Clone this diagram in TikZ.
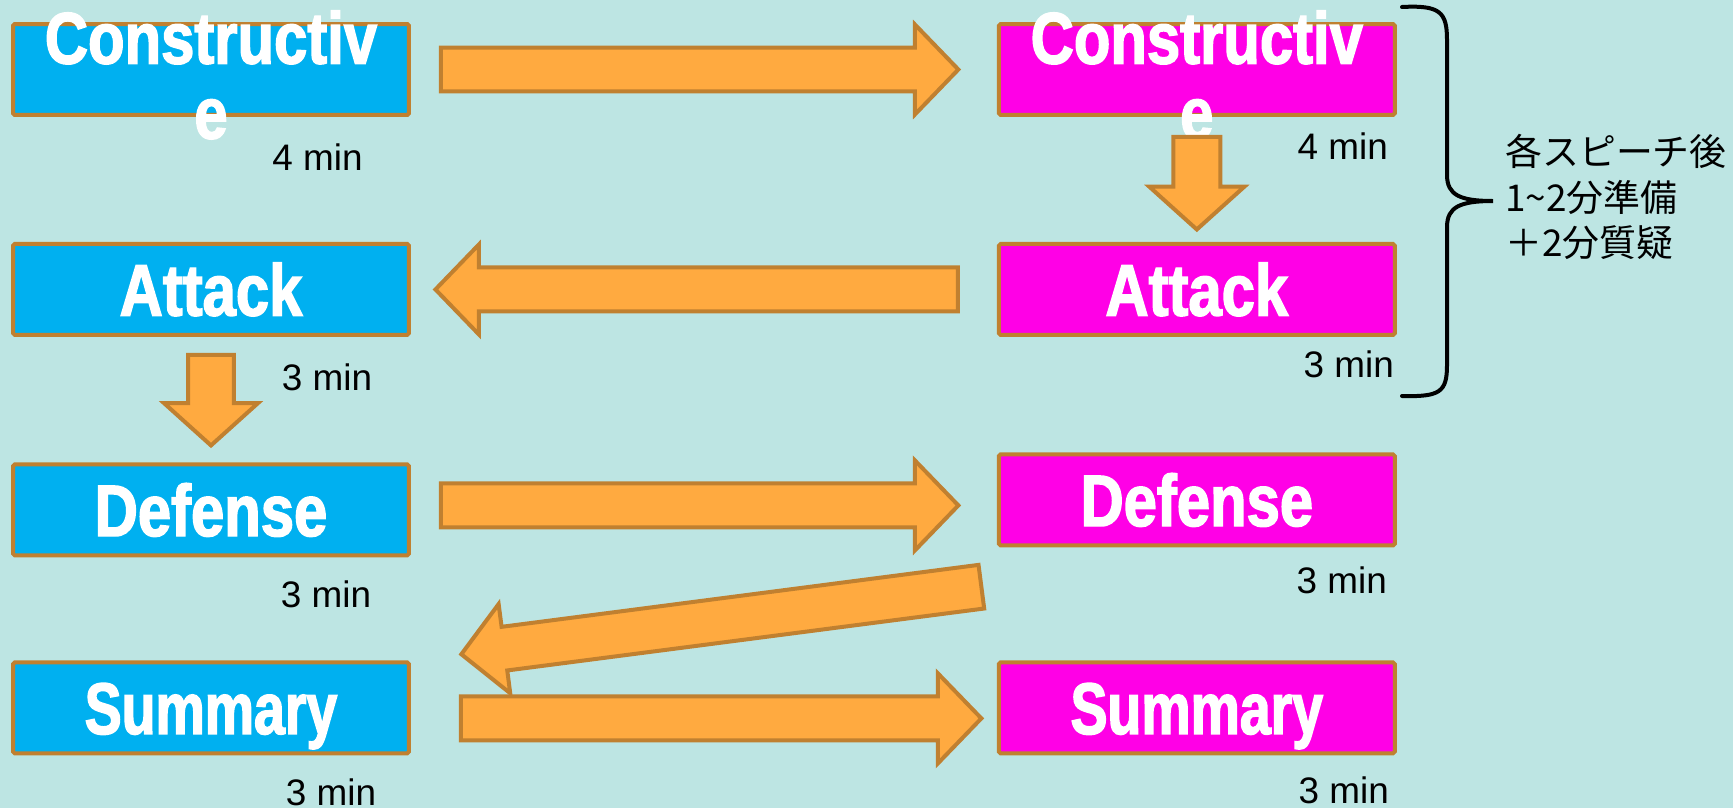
\documentclass[tikz,border=0pt]{standalone}
\usepackage{fontspec}
\setmainfont{Liberation Sans}
\newfontfamily\boxfont[FakeStretch=0.82,FakeBold=2]{Liberation Sans Bold}
\newfontfamily\narrowfont[FakeStretch=0.76,FakeBold=2]{Liberation Sans Bold}
\newfontfamily\cjk{Noto Sans CJK JP}
\usetikzlibrary{positioning,shapes.arrows}
\definecolor{bgteal}{RGB}{189,229,227}
\definecolor{affblue}{RGB}{0,176,240}
\definecolor{negpink}{RGB}{255,0,230}
\definecolor{rim}{RGB}{192,128,48}
\definecolor{flowfill}{RGB}{255,170,64}
\tikzset{speech/.style={rectangle,draw=rim,line width=0.08cm,minimum width=7.92cm,minimum height=1.82cm,inner sep=0pt,outer sep=0pt,rounded corners=1pt,text=white,font=\boxfont\fontsize{41.5pt}{42.7pt}\selectfont,text height=29.7pt,text depth=0pt},
aff/.style={speech,fill=affblue},
neg/.style={speech,fill=negpink},
narrow/.style={font=\narrowfont\fontsize{41.5pt}{42.7pt}\selectfont},
wrapped/.style={text=white,align=center,inner sep=0pt,font=\boxfont\fontsize{41.5pt}{42.7pt}\selectfont},
flow/.style={single arrow,draw=rim,fill=flowfill,line width=0.08cm,single arrow head extend=0.46cm,single arrow tip angle=92,inner sep=0.4cm,outer sep=0pt,anchor=tail},
dur/.style={font=\fontsize{21pt}{25pt}\selectfont,inner sep=0pt},
note/.style={font=\cjk\fontsize{21pt}{26pt}\selectfont,align=left,inner sep=0pt,anchor=west},
}

\begin{document}
\begin{tikzpicture}[x=0.02cm,y=-0.02cm]
	\useasboundingbox (0,0) rectangle (1733,808);
	\fill[bgteal] (0,0) rectangle (1733,808);

	% speeches
	\node[aff] (cl) at (211,69.5) {};
	\node[neg] (cr) [right = 11.8cm of cl] {};
	\node[aff] (al) [below = 2.58cm of cl] {Attack};
	\node[neg] (ar) [below = 2.58cm of cr] {Attack};
	\node[aff] (dl) [below = 2.59cm of al] {Defense};
	\node[neg] (dr) [below = 2.39cm of ar] {Defense};
	\node[aff,narrow] (sl) [below = 2.14cm of dl] {Summary};
	\node[neg,narrow] (sr) [below = 2.34cm of dr] {Summary};
	\node[wrapped] (clt) at ([shift={(0,5.5)}]cl.center) {Constructiv\\e};
	\node[wrapped] (crt) at ([shift={(0,5.5)}]cr.center) {Constructiv\\e};

	% times
	\node[dur] (tcl) at ([shift={(106.5,42.5)}]cl.south) {4 min};
	\node[dur] (tcr) at ([shift={(146,31)}]cr.south) {4 min};
	\node[dur] (tal) at ([shift={(116,42.5)}]al.south) {3 min};
	\node[dur] (tar) at ([shift={(152,29.5)}]ar.south) {3 min};
	\node[dur] (tdl) at ([shift={(115,38.5)}]dl.south) {3 min};
	\node[dur] (tdr) at ([shift={(145,34.5)}]dr.south) {3 min};
	\node[dur] (tsl) at ([shift={(120,39)}]sl.south) {3 min};
	\node[dur] (tsr) at ([shift={(147,36.5)}]sr.south) {3 min};

	% flow
	\node[flow,minimum height=10.35cm] (f1) at ([xshift=0.64cm]cl.east) {};
	\node[flow,minimum height=1.85cm,inner sep=0.43cm,single arrow head extend=0.48cm,single arrow tip angle=96,shape border rotate=270] (f2) at ([yshift=-0.44cm]cr.south) {};
	\node[flow,minimum height=10.45cm,shape border rotate=180] (f3) at ([xshift=-0.82cm]ar.west) {};
	\node[flow,minimum height=1.81cm,inner sep=0.42cm,single arrow head extend=0.48cm,single arrow tip angle=96,shape border rotate=270] (f4) at ([yshift=-0.4cm]al.south) {};
	\node[flow,minimum height=10.35cm] (f5) at ([xshift=0.64cm,yshift=0.09cm]dl.east) {};
	\node[flow,minimum height=10.49cm,rotate=187.4] (f6) at ([xshift=-0.35cm,yshift=-0.826cm]dr.south west) {};
	\node[flow,minimum height=10.41cm] (f7) at ([xshift=1.04cm,yshift=-0.21cm]sl.east) {};

	% brace and note
	\coordinate (btop) at (1402,7);
	\coordinate (btip) at (1493,201);
	\coordinate (bbot) at (1402,396);
	\draw[line width=0.08cm,line cap=round] (btop) .. controls (1440,5) and (1447,12) .. (1447,40) -- (1447,175)
		.. controls (1447,195) and (1460,201) .. (btip)
		.. controls (1460,201) and (1447,207) .. (1447,227) -- (1447,365)
		.. controls (1447,392) and (1440,397) .. (bbot);
	\node[note] (qa) at (1505,197) {各スピーチ後\\1\textasciitilde2分準備\\＋2分質疑};
\end{tikzpicture}
\end{document}
